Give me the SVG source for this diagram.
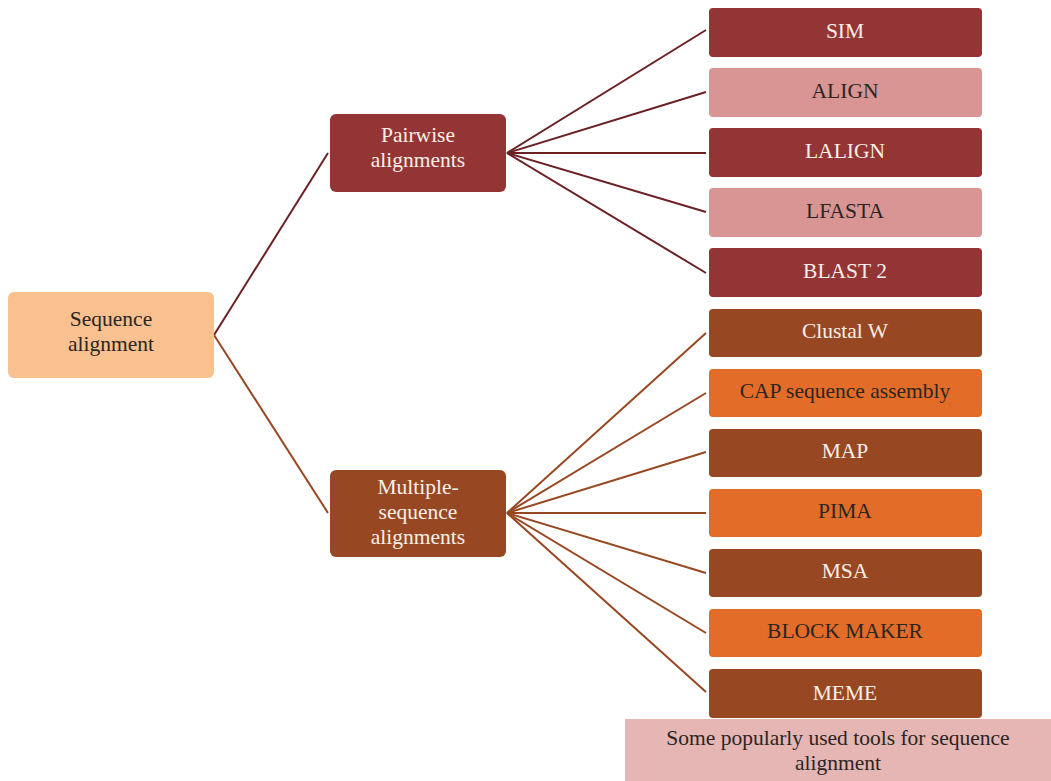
<svg xmlns="http://www.w3.org/2000/svg" width="1051" height="781" viewBox="0 0 1051 781">
  <style>
    text { font-family: "Liberation Serif", "DejaVu Serif", serif; font-size: 21.5px; text-anchor: middle; dominant-baseline: central; }
    .light { fill: #f7efe8; }
    .dark { fill: #2b2523; }
    .red { fill: #943535; }
    .pink { fill: #d99594; }
    .brown { fill: #974822; }
    .orange { fill: #e36c28; }
    .peach { fill: #f9c18f; }
    .c-red { stroke: #6b2123; stroke-width: 2; fill: none; }
    .c-brown { stroke: #974822; stroke-width: 2; fill: none; }
  </style>
  <rect width="1051" height="781" fill="#ffffff"/>

  <g id="connectors">
    <line class="c-red" x1="214" y1="335" x2="328" y2="153"/>
    <line class="c-brown" x1="214" y1="335" x2="328" y2="513"/>
    <line class="c-red" x1="507" y1="153" x2="706" y2="30"/>
    <line class="c-red" x1="507" y1="153" x2="706" y2="92"/>
    <line class="c-red" x1="507" y1="153" x2="706" y2="153"/>
    <line class="c-red" x1="507" y1="153" x2="706" y2="212"/>
    <line class="c-red" x1="507" y1="153" x2="706" y2="273"/>
    <line class="c-brown" x1="507" y1="513" x2="706" y2="333"/>
    <line class="c-brown" x1="507" y1="513" x2="706" y2="393"/>
    <line class="c-brown" x1="507" y1="513" x2="706" y2="452"/>
    <line class="c-brown" x1="507" y1="513" x2="706" y2="513"/>
    <line class="c-brown" x1="507" y1="513" x2="706" y2="573"/>
    <line class="c-brown" x1="507" y1="513" x2="706" y2="633"/>
    <line class="c-brown" x1="507" y1="513" x2="706" y2="692"/>
  </g>

  <g id="root">
    <rect class="peach" x="8" y="292" width="206" height="86" rx="6"/>
    <text class="dark" x="111" y="319">Sequence</text>
    <text class="dark" x="111" y="344">alignment</text>
  </g>

  <g id="pairwise">
    <rect class="red" x="330" y="114" width="176" height="78" rx="6"/>
    <text class="light" x="418" y="135">Pairwise</text>
    <text class="light" x="418" y="160">alignments</text>
  </g>

  <g id="multiple">
    <rect class="brown" x="330" y="470" width="176" height="87" rx="6"/>
    <text class="light" x="418" y="487">Multiple-</text>
    <text class="light" x="418" y="512">sequence</text>
    <text class="light" x="418" y="537">alignments</text>
  </g>

  <g id="sim"><rect class="red" x="709" y="8" width="273" height="49" rx="4"/><text class="light" x="845" y="31">SIM</text></g>
  <g id="align"><rect class="pink" x="709" y="68" width="273" height="49" rx="4"/><text class="dark" x="845" y="91">ALIGN</text></g>
  <g id="lalign"><rect class="red" x="709" y="128" width="273" height="49" rx="4"/><text class="light" x="845" y="151">LALIGN</text></g>
  <g id="lfasta"><rect class="pink" x="709" y="188" width="273" height="49" rx="4"/><text class="dark" x="845" y="211">LFASTA</text></g>
  <g id="blast2"><rect class="red" x="709" y="248" width="273" height="49" rx="4"/><text class="light" x="845" y="271">BLAST 2</text></g>
  <g id="clustalw"><rect class="brown" x="709" y="309" width="273" height="48" rx="4"/><text class="light" x="845" y="331">Clustal W</text></g>
  <g id="cap"><rect class="orange" x="709" y="369" width="273" height="48" rx="4"/><text class="dark" x="845" y="391">CAP sequence assembly</text></g>
  <g id="map"><rect class="brown" x="709" y="429" width="273" height="48" rx="4"/><text class="light" x="845" y="451">MAP</text></g>
  <g id="pima"><rect class="orange" x="709" y="489" width="273" height="48" rx="4"/><text class="dark" x="845" y="511">PIMA</text></g>
  <g id="msa"><rect class="brown" x="709" y="549" width="273" height="48" rx="4"/><text class="light" x="845" y="571">MSA</text></g>
  <g id="blockmaker"><rect class="orange" x="709" y="609" width="273" height="48" rx="4"/><text class="dark" x="845" y="631">BLOCK MAKER</text></g>
  <g id="meme"><rect class="brown" x="709" y="669" width="273" height="49" rx="4"/><text class="light" x="845" y="693">MEME</text></g>

  <g id="caption">
    <rect x="625" y="719" width="426" height="62" fill="#e5b6b4"/>
    <text class="dark" x="838" y="738">Some popularly used tools for sequence</text>
    <text class="dark" x="838" y="763">alignment</text>
  </g>
</svg>
